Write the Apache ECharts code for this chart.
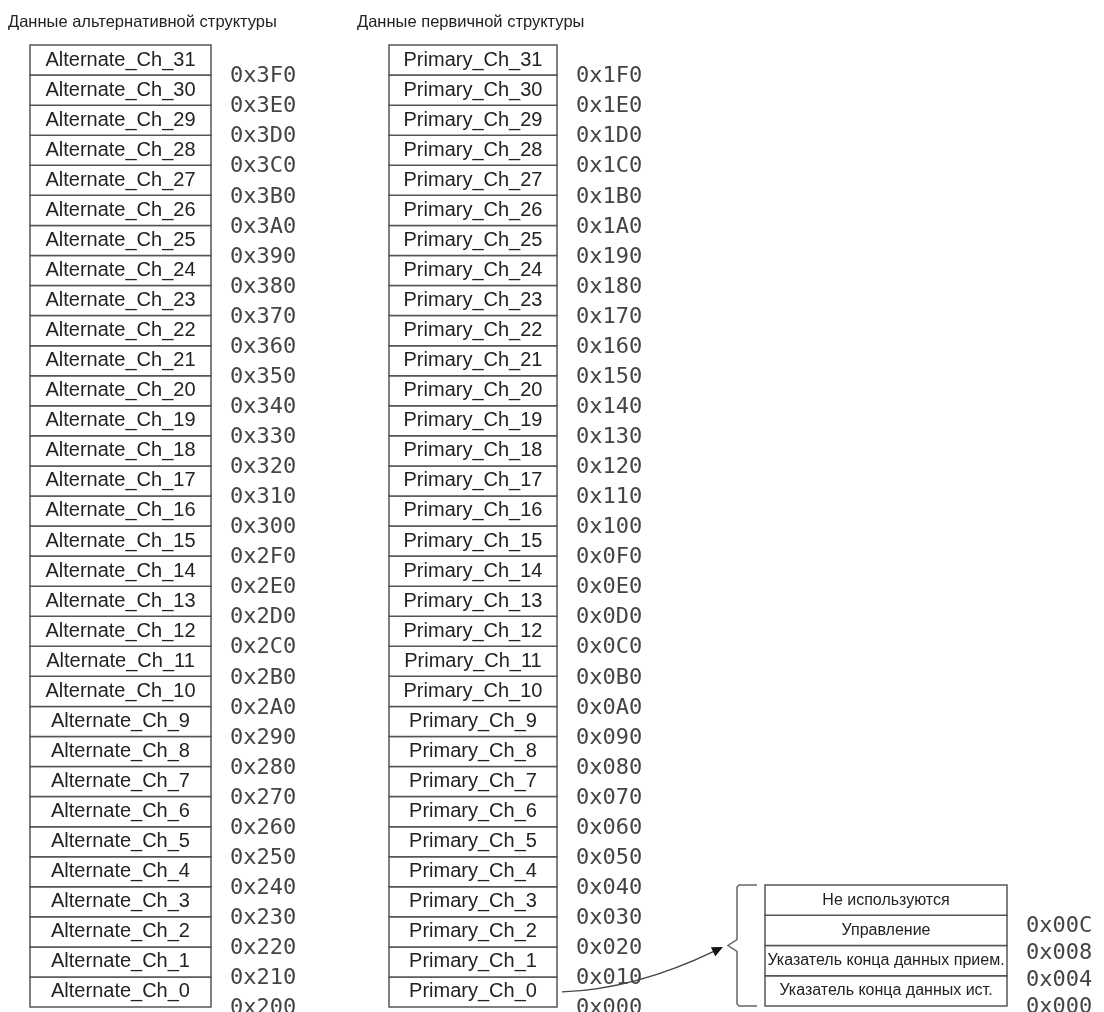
<!DOCTYPE html>
<html><head><meta charset="utf-8">
<script src="https://cdn.jsdelivr.net/npm/echarts@6/dist/echarts.min.js"></script>
<style>html,body{margin:0;padding:0;background:#fff}#c{width:1104px;height:1012px}</style>
</head><body><div id="c"></div>
<script>
// ---- data (row 0 = bottom) ----
const titles = ['Данные альтернативной структуры', 'Данные первичной структуры'];
const alternateChannels = ['Alternate_Ch_0','Alternate_Ch_1','Alternate_Ch_2','Alternate_Ch_3','Alternate_Ch_4','Alternate_Ch_5','Alternate_Ch_6','Alternate_Ch_7','Alternate_Ch_8','Alternate_Ch_9','Alternate_Ch_10','Alternate_Ch_11','Alternate_Ch_12','Alternate_Ch_13','Alternate_Ch_14','Alternate_Ch_15','Alternate_Ch_16','Alternate_Ch_17','Alternate_Ch_18','Alternate_Ch_19','Alternate_Ch_20','Alternate_Ch_21','Alternate_Ch_22','Alternate_Ch_23','Alternate_Ch_24','Alternate_Ch_25','Alternate_Ch_26','Alternate_Ch_27','Alternate_Ch_28','Alternate_Ch_29','Alternate_Ch_30','Alternate_Ch_31'];
const alternateAddresses = ['0x200','0x210','0x220','0x230','0x240','0x250','0x260','0x270','0x280','0x290','0x2A0','0x2B0','0x2C0','0x2D0','0x2E0','0x2F0','0x300','0x310','0x320','0x330','0x340','0x350','0x360','0x370','0x380','0x390','0x3A0','0x3B0','0x3C0','0x3D0','0x3E0','0x3F0'];
const primaryChannels = ['Primary_Ch_0','Primary_Ch_1','Primary_Ch_2','Primary_Ch_3','Primary_Ch_4','Primary_Ch_5','Primary_Ch_6','Primary_Ch_7','Primary_Ch_8','Primary_Ch_9','Primary_Ch_10','Primary_Ch_11','Primary_Ch_12','Primary_Ch_13','Primary_Ch_14','Primary_Ch_15','Primary_Ch_16','Primary_Ch_17','Primary_Ch_18','Primary_Ch_19','Primary_Ch_20','Primary_Ch_21','Primary_Ch_22','Primary_Ch_23','Primary_Ch_24','Primary_Ch_25','Primary_Ch_26','Primary_Ch_27','Primary_Ch_28','Primary_Ch_29','Primary_Ch_30','Primary_Ch_31'];
const primaryAddresses = ['0x000','0x010','0x020','0x030','0x040','0x050','0x060','0x070','0x080','0x090','0x0A0','0x0B0','0x0C0','0x0D0','0x0E0','0x0F0','0x100','0x110','0x120','0x130','0x140','0x150','0x160','0x170','0x180','0x190','0x1A0','0x1B0','0x1C0','0x1D0','0x1E0','0x1F0'];
const controlFields = ['Указатель конца данных ист.','Указатель конца данных прием.','Управление','Не используются'];
const controlAddresses = ['0x000','0x004','0x008','0x00C'];

// ---- styles ----
const BOX_STROKE = '#555';
const TEXT_COLOR = '#222';
const ADDR_RICH = { a: { fontFamily: 'DejaVu Sans Mono', fontSize: 22, color: '#444', padding: [3, 0, 0, 0] } };
const TITLE_STYLE = { fontFamily: 'Liberation Sans', fontSize: 16.5, fontWeight: 'normal', color: TEXT_COLOR };

function boxSeries(names, xi, yi, fontSize) {
  return {
    type: 'custom', xAxisIndex: xi, yAxisIndex: yi, silent: true, clip: false,
    data: names.map((n, i) => [0, i]),
    encode: { x: 0, y: 1 },
    renderItem(params, api) {
      const i = api.value(1);
      const a = api.coord([0, i + 1]);
      const b = api.coord([1, i]);
      return {
        type: 'rect',
        shape: { x: a[0], y: a[1], width: b[0] - a[0], height: b[1] - a[1] },
        style: { fill: '#fff', stroke: BOX_STROKE, lineWidth: 1.5 },
        textContent: { type: 'text', style: { text: names[params.dataIndex], fill: TEXT_COLOR,
          font: fontSize + 'px "Liberation Sans", Arial, sans-serif', align: 'center', verticalAlign: 'middle' } },
        textConfig: { position: 'inside' }
      };
    }
  };
}

function addrAxis(gi, labels, max) {
  return {
    type: 'value', gridIndex: gi, min: 0, max: max, interval: 1, position: 'right',
    axisLine: { show: false }, axisTick: { show: false }, splitLine: { show: false },
    axisLabel: { show: true, margin: 19, showMaxLabel: true, hideOverlap: false, rich: ADDR_RICH,
      formatter: v => labels[v] ? '{a|' + labels[v] + '}' : '' }
  };
}

const chart = echarts.init(document.getElementById('c'), null, { renderer: 'canvas' });
chart.setOption({
  backgroundColor: '#fff',
  animation: false,
  title: [
    { text: titles[0], left: 8, top: 14, padding: 0, textStyle: TITLE_STYLE },
    { text: titles[1], left: 357, top: 14, padding: 0, textStyle: TITLE_STYLE }
  ],
  grid: [
    { left: 30, top: 45, width: 181, height: 962, outerBoundsMode: 'none', containLabel: false },
    { left: 389, top: 45, width: 168, height: 962, outerBoundsMode: 'none', containLabel: false },
    { left: 765, top: 885, width: 242, height: 121, outerBoundsMode: 'none', containLabel: false }
  ],
  xAxis: [
    { type: 'value', gridIndex: 0, min: 0, max: 1, show: false },
    { type: 'value', gridIndex: 1, min: 0, max: 1, show: false },
    { type: 'value', gridIndex: 2, min: 0, max: 1, show: false }
  ],
  yAxis: [
    addrAxis(0, alternateAddresses, 32),
    addrAxis(1, primaryAddresses, 32),
    { type: 'value', gridIndex: 2, min: 0, max: 4, show: false },
    addrAxis(2, controlAddresses, 4.45)
  ],
  series: [
    boxSeries(alternateChannels, 0, 0, 20),
    boxSeries(primaryChannels, 1, 1, 20),
    boxSeries(controlFields, 2, 2, 16),
    { // brace to the left of control block
      type: 'custom', xAxisIndex: 2, yAxisIndex: 2, silent: true, clip: false,
      data: [[0, 0]], encode: { x: 0, y: 1 },
      renderItem(params, api) {
        const top = api.coord([0, controlFields.length]);
        const bot = api.coord([0, 0]);
        const L = top[0], T = top[1], B = bot[1], M = (T + B) / 2;
        return {
          type: 'polyline',
          shape: { points: [[L - 8, T], [L - 26, T], [L - 28, T + 2], [L - 28, M - 6], [L - 37, M], [L - 28, M + 6], [L - 28, B - 2], [L - 26, B], [L - 8, B]] },
          style: { fill: null, stroke: '#666', lineWidth: 1.5 }
        };
      }
    },
    { // arrow from Primary_Ch_0 to control block
      type: 'custom', xAxisIndex: 1, yAxisIndex: 1, silent: true, clip: false,
      data: [[1, 0.5]], encode: { x: 0, y: 1 },
      renderItem(params, api) {
        const s = api.coord([1, 0.5]);
        const e = api.coord([2, 2]);
        const x1 = s[0] + 5, y1 = s[1], x2 = e[0] - 2, y2 = e[1];
        const cx = x1 + 0.46 * (x2 - x1), cy = y1 - 3;
        let dx = x2 - cx, dy = y2 - cy; const len = Math.hypot(dx, dy); dx /= len; dy /= len;
        const al = 11, aw = 5;
        const bx = x2 - dx * al, by = y2 - dy * al;
        return {
          type: 'group',
          children: [
            { type: 'bezierCurve', shape: { x1: x1, y1: y1, x2: bx + dx * 2, y2: by + dy * 2, cpx1: cx, cpy1: cy },
              style: { fill: null, stroke: '#444', lineWidth: 1.3 } },
            { type: 'polygon', shape: { points: [[x2, y2], [bx - dy * aw, by + dx * aw], [bx + dy * aw, by - dx * aw]] },
              style: { fill: '#111', stroke: null } }
          ]
        };
      }
    }
  ]
});
</script></body></html>
